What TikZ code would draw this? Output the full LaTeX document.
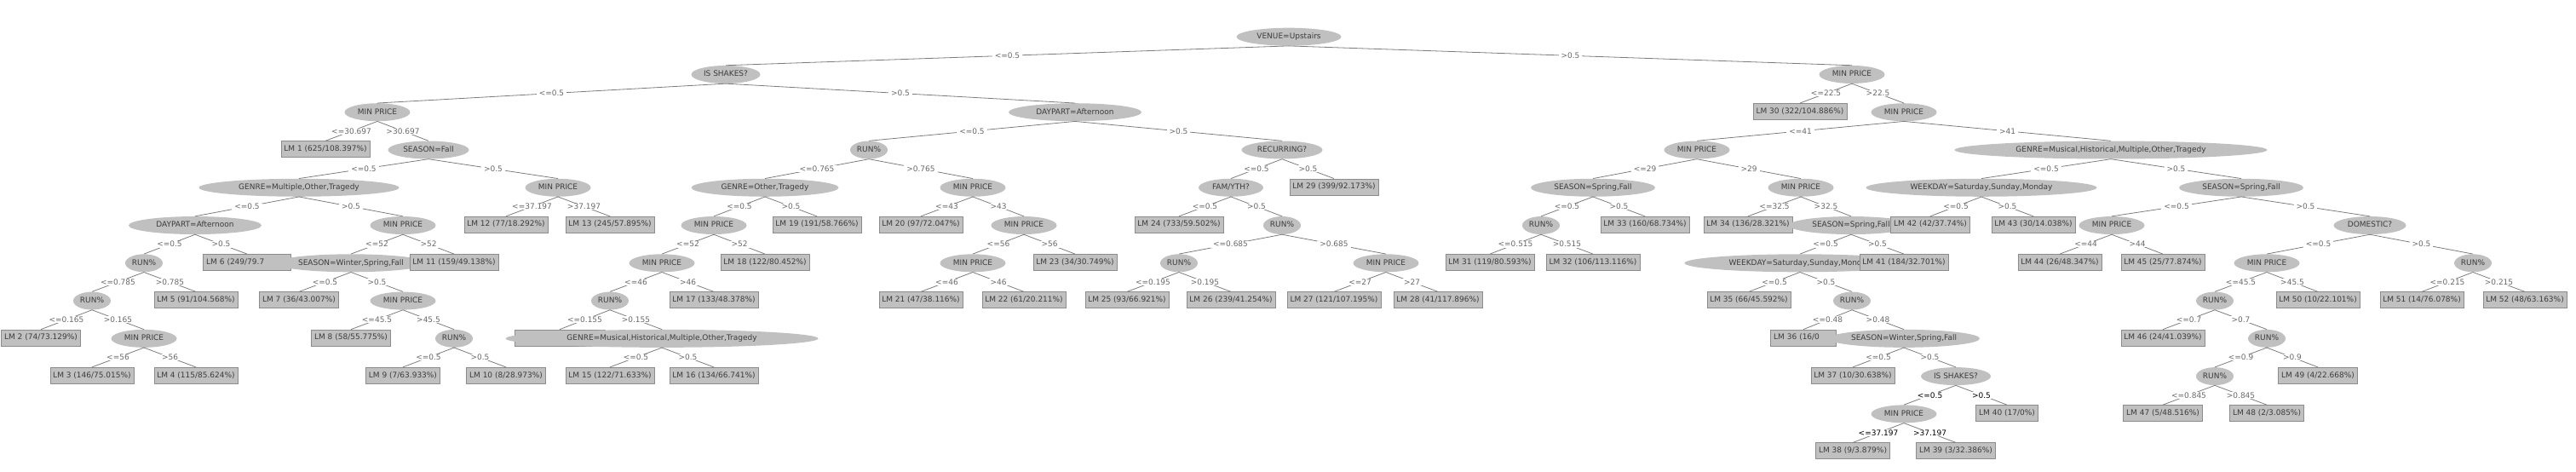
\documentclass[tikz,border=0pt]{standalone}
\usepackage{fontspec}
\setmainfont{DejaVu Sans}
\usepackage{tikz}
\usetikzlibrary{shapes}

\definecolor{nodefill}{RGB}{192,192,192}
\definecolor{boxedge}{RGB}{140,140,140}
\definecolor{nodetext}{RGB}{60,60,60}
\definecolor{lbltext}{RGB}{105,105,105}
\definecolor{linegray}{RGB}{125,125,125}

\tikzset{
  attr/.style={ellipse, fill=nodefill, anchor=north, minimum height=21pt,
    minimum width=#1, inner xsep=1pt, inner ysep=0pt, text=nodetext,
    font=\fontsize{9}{10}\selectfont, text height=6.6pt, text depth=1.8pt},
  attr/.default=0pt,
  model/.style={rectangle, fill=nodefill, draw=boxedge, anchor=north,
    minimum height=19pt, inner xsep=3.5pt, inner ysep=0pt, text=nodetext,
    font=\fontsize{9}{10}\selectfont, text height=6.6pt, text depth=1.8pt},
  lbl/.style={fill=white, text=lbltext, inner xsep=3pt, inner ysep=0.5pt,
    font=\fontsize{9}{10}\selectfont},
  branchline/.style={draw=linegray, line width=0.8pt}
}
\newcommand{\treeedge}[4][]{\draw[branchline] (#2.south) -- node[lbl,#1] {#4} (#3.north);}

\begin{document}
\begin{tikzpicture}[x=1pt, y=-44.27pt]
  \useasboundingbox (0,-0.734) rectangle (3024,11.78);

  % Define nodes
  \node[attr=123pt] (root) at (1513,0) {VENUE=Upstairs};

  \node[attr=81pt] (shk) at (852,1) {IS SHAKES?};
  \node[attr=77pt] (mp1) at (2174,1) {MIN PRICE};

  \node[attr=77pt]  (mp2)  at (443,2)  {MIN PRICE};
  \node[attr=156pt] (dp1)  at (1262,2) {DAYPART=Afternoon};
  \node[model]      (lm30) at (2113,2) {LM 30 (322/104.886\%)};
  \node[attr=77pt]  (mp3)  at (2235,2) {MIN PRICE};

  \node[model]      (lm1)   at (382,3)  {LM 1 (625/108.397\%)};
  \node[attr=95pt]  (sfall) at (503,3)  {SEASON=Fall};
  \node[attr=44pt]  (run1)  at (1020,3) {RUN\%};
  \node[attr=95pt]  (rec)   at (1505,3) {RECURRING?};
  \node[attr=77pt]  (mp4)   at (1992,3) {MIN PRICE};
  \node[attr=367pt] (gen1)  at (2478,3) {GENRE=Musical,Historical,Multiple,Other,Tragedy};

  \node[attr=235pt] (gen2) at (351,4)  {GENRE=Multiple,Other,Tragedy};
  \node[attr=77pt]  (mp5)  at (655,4)  {MIN PRICE};
  \node[attr=173pt] (gen3) at (898,4)  {GENRE=Other,Tragedy};
  \node[attr=77pt]  (mp6)  at (1142,4) {MIN PRICE};
  \node[attr=76pt]  (fam)  at (1445,4) {FAM/YTH?};
  \node[model]      (lm29) at (1566,4) {LM 29 (399/92.173\%)};
  \node[attr=146pt] (ssf1) at (1870,4) {SEASON=Spring,Fall};
  \node[attr=77pt]  (mp7)  at (2114,4) {MIN PRICE};
  \node[attr=271pt] (wk1)  at (2326,4) {WEEKDAY=Saturday,Sunday,Monday};
  \node[attr=146pt] (ssf2) at (2631,4) {SEASON=Spring,Fall};

  \node[attr=156pt] (dp2)  at (229,5)  {DAYPART=Afternoon};
  \node[attr=77pt]  (mp8)  at (473,5)  {MIN PRICE};
  \node[model]      (lm12) at (594,5)  {LM 12 (77/18.292\%)};
  \node[model]      (lm13) at (716,5)  {LM 13 (245/57.895\%)};
  \node[attr=77pt]  (mp9)  at (838,5)  {MIN PRICE};
  \node[model]      (lm19) at (959,5)  {LM 19 (191/58.766\%)};
  \node[model]      (lm20) at (1081,5) {LM 20 (97/72.047\%)};
  \node[attr=77pt]  (mp10) at (1202,5) {MIN PRICE};
  \node[model]      (lm24) at (1384,5) {LM 24 (733/59.502\%)};
  \node[attr=44pt]  (run2) at (1505,5) {RUN\%};
  \node[attr=44pt]  (run3) at (1809,5) {RUN\%};
  \node[model]      (lm33) at (1931,5) {LM 33 (160/68.734\%)};
  \node[model]      (lm34) at (2052,5) {LM 34 (136/28.321\%)};
  \node[attr=146pt] (ssf3) at (2173,5) {SEASON=Spring,Fall};
  \node[model]      (lm42) at (2266,5) {LM 42 (42/37.74\%)};
  \node[model]      (lm43) at (2387,5) {LM 43 (30/14.038\%)};
  \node[attr=77pt]  (mp11) at (2479,5) {MIN PRICE};
  \node[attr=85pt]  (dom)  at (2782,5) {DOMESTIC?};

  \node[attr=44pt]  (run4)  at (169,6)  {RUN\%};
  \node[model, text width=96pt, align=left] (lm6) at (290,6) {LM 6 (249/79.7};
  \node[attr]       (swsf1) at (412,6)  {SEASON=Winter,Spring,Fall};
  \node[model]      (lm11)  at (533,6)  {LM 11 (159/49.138\%)};
  \node[attr=77pt]  (mp12)  at (777,6)  {MIN PRICE};
  \node[model]      (lm18)  at (898,6)  {LM 18 (122/80.452\%)};
  \node[attr=77pt]  (mp13)  at (1142,6) {MIN PRICE};
  \node[model]      (lm23)  at (1262,6) {LM 23 (34/30.749\%)};
  \node[attr=44pt]  (run5)  at (1384,6) {RUN\%};
  \node[attr=77pt]  (mp14)  at (1627,6) {MIN PRICE};
  \node[model]      (lm31)  at (1749,6) {LM 31 (119/80.593\%)};
  \node[model]      (lm32)  at (1870,6) {LM 32 (106/113.116\%)};
  \node[attr=271pt] (wk2)   at (2113,6) {WEEKDAY=Saturday,Sunday,Monday};
  \node[model]      (lm41)  at (2235,6) {LM 41 (184/32.701\%)};
  \node[model]      (lm44)  at (2418,6) {LM 44 (26/48.347\%)};
  \node[model]      (lm45)  at (2539,6) {LM 45 (25/77.874\%)};
  \node[attr=77pt]  (mp15)  at (2661,6) {MIN PRICE};
  \node[attr=44pt]  (run6)  at (2903,6) {RUN\%};

  \node[attr=44pt]  (run7)  at (108,7)  {RUN\%};
  \node[model]      (lm5)   at (230,7)  {LM 5 (91/104.568\%)};
  \node[model]      (lm7)   at (351,7)  {LM 7 (36/43.007\%)};
  \node[attr=77pt]  (mp16)  at (473,7)  {MIN PRICE};
  \node[attr=44pt]  (run8)  at (716,7)  {RUN\%};
  \node[model]      (lm17)  at (838,7)  {LM 17 (133/48.378\%)};
  \node[model]      (lm21)  at (1081,7) {LM 21 (47/38.116\%)};
  \node[model]      (lm22)  at (1202,7) {LM 22 (61/20.211\%)};
  \node[model]      (lm25)  at (1323,7) {LM 25 (93/66.921\%)};
  \node[model]      (lm26)  at (1445,7) {LM 26 (239/41.254\%)};
  \node[model]      (lm27)  at (1566,7) {LM 27 (121/107.195\%)};
  \node[model]      (lm28)  at (1688,7) {LM 28 (41/117.896\%)};
  \node[model]      (lm35)  at (2053,7) {LM 35 (66/45.592\%)};
  \node[attr=44pt]  (run9)  at (2174,7) {RUN\%};
  \node[attr=44pt]  (run10) at (2600,7) {RUN\%};
  \node[model]      (lm50)  at (2721,7) {LM 50 (10/22.101\%)};
  \node[model]      (lm51)  at (2843,7) {LM 51 (14/76.078\%)};
  \node[model]      (lm52)  at (2964,7) {LM 52 (48/63.163\%)};

  \node[model]      (lm2)   at (48,8)   {LM 2 (74/73.129\%)};
  \node[attr=77pt]  (mp17)  at (169,8)  {MIN PRICE};
  \node[model]      (lm8)   at (412,8)  {LM 8 (58/55.775\%)};
  \node[attr=44pt]  (run11) at (533,8)  {RUN\%};
  \node[model, minimum width=106pt] (lm14) at (657,8) {};
  \node[attr=367pt] (gen4)  at (777,8)  {GENRE=Musical,Historical,Multiple,Other,Tragedy};
  \node[model, text width=70pt, align=left] (lm36) at (2117,8) {LM 36 (16/0};
  \node[attr]       (swsf2) at (2235,8) {SEASON=Winter,Spring,Fall};
  \node[model]      (lm46)  at (2539,8) {LM 46 (24/41.039\%)};
  \node[attr=44pt]  (run12) at (2661,8) {RUN\%};

  \node[model]      (lm3)   at (108,9)  {LM 3 (146/75.015\%)};
  \node[model]      (lm4)   at (230,9)  {LM 4 (115/85.624\%)};
  \node[model]      (lm9)   at (473,9)  {LM 9 (7/63.933\%)};
  \node[model]      (lm10)  at (594,9)  {LM 10 (8/28.973\%)};
  \node[model]      (lm15)  at (716,9)  {LM 15 (122/71.633\%)};
  \node[model]      (lm16)  at (838,9)  {LM 16 (134/66.741\%)};
  \node[model]      (lm37)  at (2175,9) {LM 37 (10/30.638\%)};
  \node[attr=82pt]  (shk2)  at (2296,9) {IS SHAKES?};
  \node[attr=44pt]  (run13) at (2600,9) {RUN\%};
  \node[model]      (lm49)  at (2721,9) {LM 49 (4/22.668\%)};

  \node[attr=77pt]  (mp18)  at (2235,10) {MIN PRICE};
  \node[model]      (lm40)  at (2356,10) {LM 40 (17/0\%)};
  \node[model]      (lm47)  at (2539,10) {LM 47 (5/48.516\%)};
  \node[model]      (lm48)  at (2661,10) {LM 48 (2/3.085\%)};

  \node[model]      (lm38)  at (2175,11) {LM 38 (9/3.879\%)};
  \node[model]      (lm39)  at (2296,11) {LM 39 (3/32.386\%)};

  % Connect the nodes
  \treeedge{root}{shk}{<=0.5}     \treeedge{root}{mp1}{>0.5}
  \treeedge{shk}{mp2}{<=0.5}      \treeedge{shk}{dp1}{>0.5}
  \treeedge{mp1}{lm30}{<=22.5}    \treeedge{mp1}{mp3}{>22.5}
  \treeedge{mp2}{lm1}{<=30.697}   \treeedge{mp2}{sfall}{>30.697}
  \treeedge{dp1}{run1}{<=0.5}     \treeedge{dp1}{rec}{>0.5}
  \treeedge{mp3}{mp4}{<=41}       \treeedge{mp3}{gen1}{>41}
  \treeedge{sfall}{gen2}{<=0.5}   \treeedge{sfall}{mp5}{>0.5}
  \treeedge{run1}{gen3}{<=0.765}  \treeedge{run1}{mp6}{>0.765}
  \treeedge{rec}{fam}{<=0.5}      \treeedge{rec}{lm29}{>0.5}
  \treeedge{mp4}{ssf1}{<=29}      \treeedge{mp4}{mp7}{>29}
  \treeedge{gen1}{wk1}{<=0.5}     \treeedge{gen1}{ssf2}{>0.5}
  \treeedge{gen2}{dp2}{<=0.5}     \treeedge{gen2}{mp8}{>0.5}
  \treeedge{mp5}{lm12}{<=37.197}  \treeedge{mp5}{lm13}{>37.197}
  \treeedge{gen3}{mp9}{<=0.5}     \treeedge{gen3}{lm19}{>0.5}
  \treeedge{mp6}{lm20}{<=43}      \treeedge{mp6}{mp10}{>43}
  \treeedge{fam}{lm24}{<=0.5}     \treeedge{fam}{run2}{>0.5}
  \treeedge{ssf1}{run3}{<=0.5}    \treeedge{ssf1}{lm33}{>0.5}
  \treeedge{mp7}{lm34}{<=32.5}    \treeedge{mp7}{ssf3}{>32.5}
  \treeedge{wk1}{lm42}{<=0.5}     \treeedge{wk1}{lm43}{>0.5}
  \treeedge{ssf2}{mp11}{<=0.5}    \treeedge{ssf2}{dom}{>0.5}
  \treeedge{dp2}{run4}{<=0.5}     \treeedge{dp2}{lm6}{>0.5}
  \treeedge{mp8}{swsf1}{<=52}     \treeedge{mp8}{lm11}{>52}
  \treeedge{mp9}{mp12}{<=52}      \treeedge{mp9}{lm18}{>52}
  \treeedge{mp10}{mp13}{<=56}     \treeedge{mp10}{lm23}{>56}
  \treeedge{run2}{run5}{<=0.685}  \treeedge{run2}{mp14}{>0.685}
  \treeedge{run3}{lm31}{<=0.515}  \treeedge{run3}{lm32}{>0.515}
  \treeedge{ssf3}{wk2}{<=0.5}     \treeedge{ssf3}{lm41}{>0.5}
  \treeedge{mp11}{lm44}{<=44}     \treeedge{mp11}{lm45}{>44}
  \treeedge{dom}{mp15}{<=0.5}     \treeedge{dom}{run6}{>0.5}
  \treeedge{run4}{run7}{<=0.785}  \treeedge{run4}{lm5}{>0.785}
  \treeedge{swsf1}{lm7}{<=0.5}    \treeedge{swsf1}{mp16}{>0.5}
  \treeedge{mp12}{run8}{<=46}     \treeedge{mp12}{lm17}{>46}
  \treeedge{mp13}{lm21}{<=46}     \treeedge{mp13}{lm22}{>46}
  \treeedge{run5}{lm25}{<=0.195}  \treeedge{run5}{lm26}{>0.195}
  \treeedge{mp14}{lm27}{<=27}     \treeedge{mp14}{lm28}{>27}
  \treeedge{wk2}{lm35}{<=0.5}     \treeedge{wk2}{run9}{>0.5}
  \treeedge{mp15}{run10}{<=45.5}  \treeedge{mp15}{lm50}{>45.5}
  \treeedge{run6}{lm51}{<=0.215}  \treeedge{run6}{lm52}{>0.215}
  \treeedge{run7}{lm2}{<=0.165}   \treeedge{run7}{mp17}{>0.165}
  \treeedge{mp16}{lm8}{<=45.5}    \treeedge{mp16}{run11}{>45.5}
  \treeedge{run8}{lm14}{<=0.155}  \treeedge{run8}{gen4}{>0.155}
  \treeedge{run9}{lm36}{<=0.48}   \treeedge{run9}{swsf2}{>0.48}
  \treeedge{run10}{lm46}{<=0.7}   \treeedge{run10}{run12}{>0.7}
  \treeedge{mp17}{lm3}{<=56}      \treeedge{mp17}{lm4}{>56}
  \treeedge{run11}{lm9}{<=0.5}    \treeedge{run11}{lm10}{>0.5}
  \treeedge{gen4}{lm15}{<=0.5}    \treeedge{gen4}{lm16}{>0.5}
  \treeedge{swsf2}{lm37}{<=0.5}   \treeedge{swsf2}{shk2}{>0.5}
  \treeedge{run12}{run13}{<=0.9}  \treeedge{run12}{lm49}{>0.9}
  \treeedge[text=black]{shk2}{mp18}{<=0.5}
  \treeedge[text=black]{shk2}{lm40}{>0.5}
  \treeedge{run13}{lm47}{<=0.845} \treeedge{run13}{lm48}{>0.845}
  \treeedge[text=black]{mp18}{lm38}{<=37.197}
  \treeedge[text=black]{mp18}{lm39}{>37.197}
\end{tikzpicture}
\end{document}
